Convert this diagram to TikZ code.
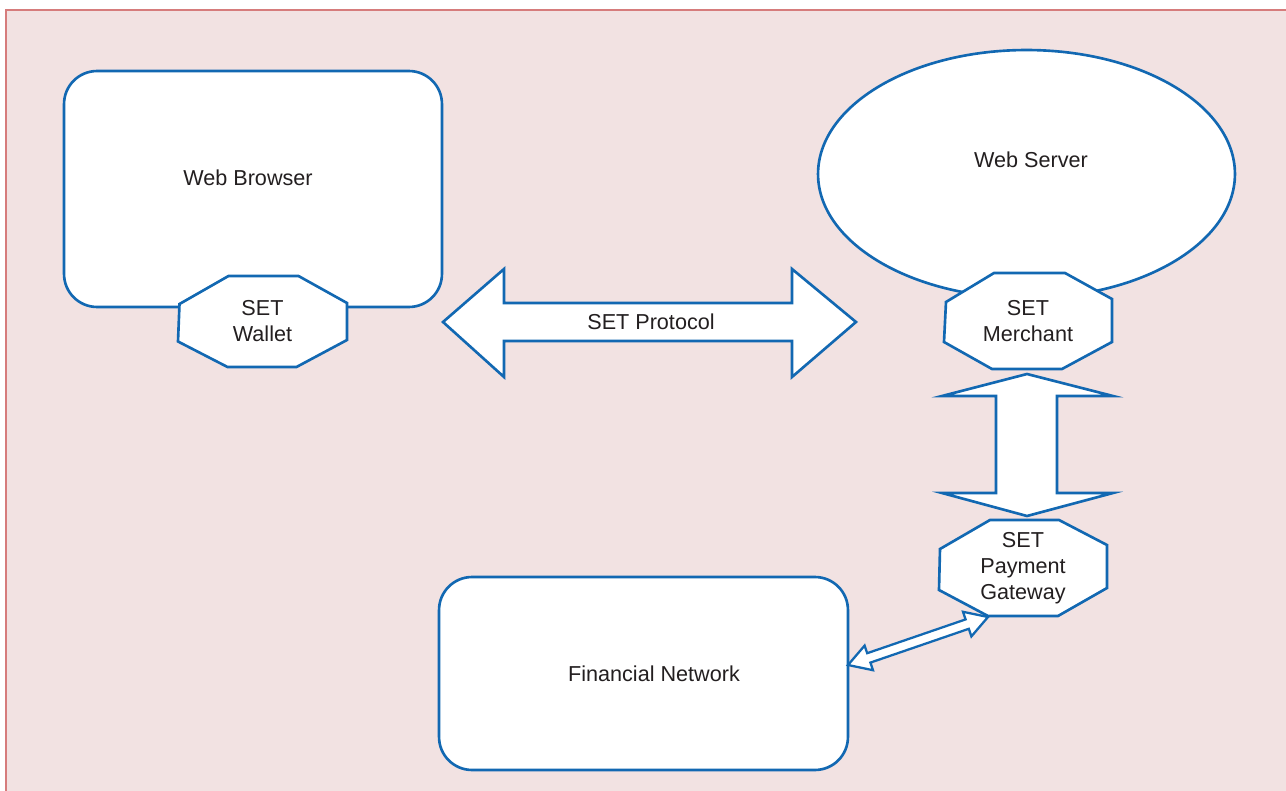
\documentclass[tikz,border=0pt]{standalone}
\usepackage{fontspec}
\setmainfont{Liberation Sans}
\usepackage{xcolor}
\usetikzlibrary{shapes.geometric}

\definecolor{setblue}{RGB}{18,104,178}
\definecolor{panelpink}{RGB}{242,226,226}
\definecolor{panelred}{RGB}{214,124,124}
\definecolor{inkgray}{RGB}{35,31,32}

\begin{document}
\begin{tikzpicture}[x=0.02cm, y=-0.02cm,
        font=\fontsize{12.3}{14.8}\selectfont, text=inkgray,
        box/.style={rectangle, draw=setblue, fill=white, line width=1.5pt, rounded corners=0.66cm, inner sep=0pt},
        cloud/.style={ellipse, draw=setblue, fill=white, line width=1.5pt, inner sep=0pt},
        octtext/.style={align=center, inner sep=0pt},
        hollow/.style={draw=setblue, fill=white, line width=1.5pt, line join=miter}
    ]
        \useasboundingbox (0,0) rectangle (1286,791);
        \fill[panelpink] (6,10) rectangle (1286,791);
        \draw[panelred, line width=0.8pt] (6,791) -- (6,10) -- (1286,10);

        \node[box, minimum width=7.56cm, minimum height=4.72cm,
            label={[xshift=-0.1cm, yshift=0.22cm]center:Web Browser}] (browser) at (253,189) {};
        \draw[hollow] (262.5,321.5) +(-34,-45.5) -- +(36,-45.5) -- +(84.5,-18.5) -- +(84.5,18.5)
            -- +(34,45.5) -- +(-35,45.5) -- +(-84.5,20) -- +(-83,-17.5) -- cycle;
        \node[octtext] (wallet) at (262.5,321.5) {SET\\Wallet};

        \node[cloud, minimum width=8.34cm, minimum height=4.96cm,
            label={[xshift=0.09cm, yshift=0.28cm]center:Web Server}] (server) at (1026.5,174) {};
        \draw[hollow] (1028,321) +(-34,-48) -- +(37,-48) -- +(84,-22) -- +(84,21)
            -- +(34,48) -- +(-36,48) -- +(-84,21) -- +(-82,-19) -- cycle;
        \node[octtext] (merchant) at (1028,321) {SET\\Merchant};

        \draw[hollow] (1023,568) +(-33,-48) -- +(36,-48) -- +(84,-23) -- +(84,20)
            -- +(35,48) -- +(-35,48) -- +(-84,22) -- +(-83,-19) -- cycle;
        \node[octtext] (gateway) at (1023,568) {SET\\Payment\\Gateway};

        \node[box, minimum width=8.18cm, minimum height=3.86cm,
            label={[xshift=0.21cm]center:Financial Network}] (finance) at (643.5,673.5) {};

        % SET protocol between wallet side and merchant side
        \coordinate (protoL) at (443,322);
        \coordinate (protoR) at (856,322);
        \draw[hollow] (protoL) -- ++(61,-53) -- ++(0,34) -- ++(288,0) -- ++(0,-34) -- (protoR)
            -- ++(-64,55) -- ++(0,-36) -- ++(-288,0) -- ++(0,36) -- cycle;
        \node (proto) at (651,322) {SET Protocol};

        % merchant <-> gateway
        \coordinate (linkT) at (1027,374);
        \coordinate (linkB) at (1027,516);
        \draw[hollow] (linkT) -- ++(86,22) -- ++(-56,0) -- ++(0,97) -- ++(56,0) -- (linkB)
            -- ++(-85,-23) -- ++(54,0) -- ++(0,-97) -- ++(-54,0) -- cycle;

        % gateway <-> financial network
        \coordinate (payL) at (848,665);
        \coordinate (payR) at (988,617);
        \draw[hollow, line width=1.3pt] (payL) -- ++(16.6,-19.4) -- ++(2.6,7.6) -- ++(98.4,-33.8) -- ++(-2.6,-7.6) -- (payR)
            -- ++(-16.6,19.4) -- ++(-2.6,-7.6) -- ++(-98.4,33.8) -- ++(2.6,7.6) -- cycle;
    \end{tikzpicture}
\end{document}
